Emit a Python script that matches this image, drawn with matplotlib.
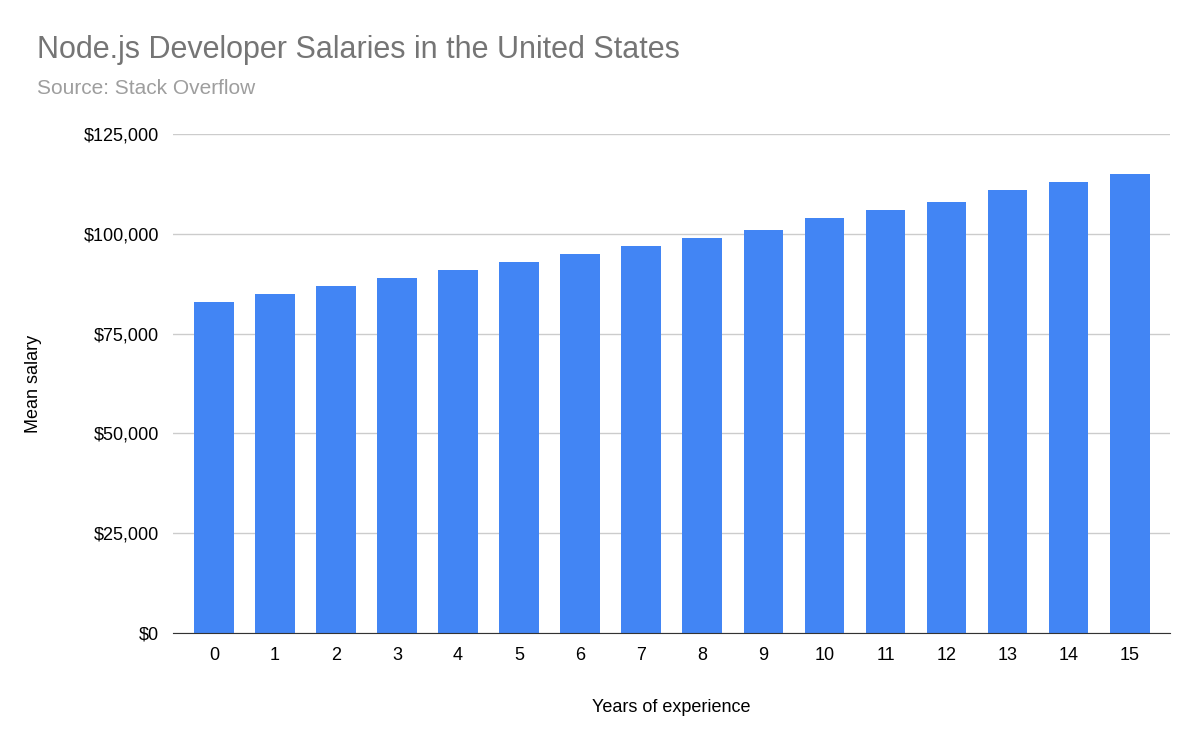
import matplotlib
matplotlib.use("Agg")
import matplotlib.pyplot as plt

years = list(range(16))
salaries = [83000, 85000, 87000, 89000, 91000, 93000, 95000, 97000, 99000,
            101000, 104000, 106000, 108000, 111000, 113000, 115000]
yticks = [0, 25000, 50000, 75000, 100000, 125000]
ytick_labels = ["$0", "$25,000", "$50,000", "$75,000", "$100,000", "$125,000"]

plt.rcParams["font.family"] = "Liberation Sans"
fig = plt.figure(figsize=(12.02, 7.44), dpi=100)
ax = fig.add_axes([173/1202, 1-633/744, (1170-173)/1202, (633-134)/744])
ax.bar(years, salaries, width=0.65, color="#4285f4", zorder=2)
ax.set_xlim(-0.67, 15.66)
ax.set_ylim(0, 125000)
ax.set_yticks(yticks)
ax.set_yticklabels(ytick_labels, fontsize=13)
ax.set_xticks(years)
ax.set_xticklabels([str(y) for y in years], fontsize=13)
ax.grid(axis="y", color="#cccccc", linewidth=1, zorder=0)
for s in ["top", "right", "left"]:
    ax.spines[s].set_visible(False)
ax.spines["bottom"].set_color("#333333")
ax.tick_params(length=0, pad=10)
ax.set_xlabel("Years of experience", fontsize=13, labelpad=25)
ax.set_ylabel("Mean salary", fontsize=13, labelpad=30)
fig.text(37/1202, 1-50/744, "Node.js Developer Salaries in the United States",
         fontsize=22, color="#757575", va="center")
fig.text(37/1202, 1-89/744, "Source: Stack Overflow", fontsize=15,
         color="#9e9e9e", va="center")
fig.savefig("out.png", dpi=100)
